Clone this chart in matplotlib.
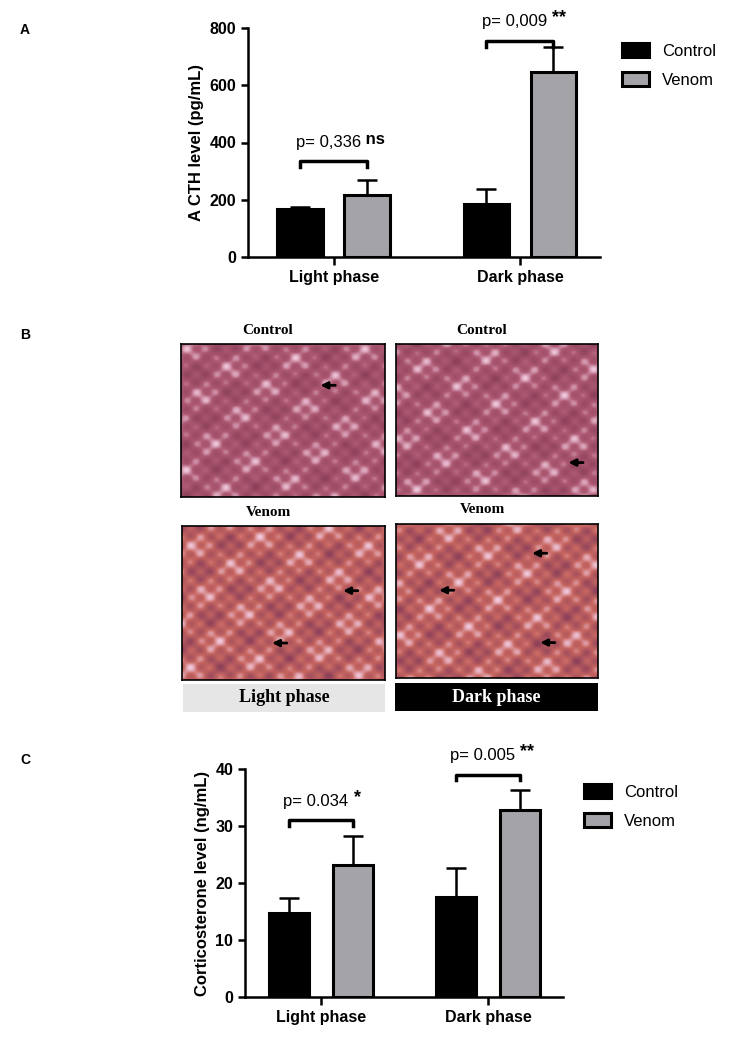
import numpy as np
import matplotlib
matplotlib.use("Agg")
import matplotlib.pyplot as plt

plt.rcParams["font.family"] = ["Liberation Sans", "DejaVu Sans"]

phases = ["Light phase", "Dark phase"]
groups = ["Control", "Venom"]

acth_mean = {"Control": [168, 185], "Venom": [218, 645]}
acth_err = {"Control": [6, 53], "Venom": [50, 88]}
acth_p = ["p= 0,336", "p= 0,009"]
acth_sig = ["ns", "**"]

cort_mean = {"Control": [14.8, 17.6], "Venom": [23.2, 32.8]}
cort_err = {"Control": [2.6, 5.1], "Venom": [5.1, 3.6]}
cort_p = ["p= 0.034", "p= 0.005"]
cort_sig = ["*", "**"]

colors = {"Control": "black", "Venom": "#a3a3a8"}

W, H = 750, 1041
fig = plt.figure(figsize=(W / 100, H / 100), dpi=100)


def px_axes(x0, y0, x1, y1):
    # pixel box (top-left origin) -> figure axes
    return fig.add_axes([x0 / W, 1 - y1 / H, (x1 - x0) / W, (y1 - y0) / H])


def bar_panel(ax, means, errs, ylim, yticks, ylabel, ptext, sig, bracket_y, off, width, xlim):
    x = np.arange(len(phases))
    for i, g in enumerate(groups):
        xs = x + (-off if i == 0 else off)
        ax.bar(xs, means[g], width=width, color=colors[g], edgecolor="black", linewidth=2.2, zorder=2, label=g)
        ax.errorbar(xs, means[g], yerr=[np.zeros(2), errs[g]], fmt="none", ecolor="black",
                    elinewidth=1.8, capsize=7, capthick=1.8, zorder=1)
    span = ylim[1] - ylim[0]
    tick_h = span * 0.025
    for j in range(len(phases)):
        yb = bracket_y[j]
        ax.plot([x[j] - off, x[j] - off, x[j] + off, x[j] + off], [yb - tick_h, yb, yb, yb - tick_h],
                color="black", lw=2.5, clip_on=False)
        t = ax.annotate(ptext[j], (x[j] - 0.03, yb + span * 0.05), ha="center", va="bottom",
                        fontsize=12, annotation_clip=False)
        ax.annotate(" " + sig[j], (1, 0.15), xycoords=t, ha="left", va="bottom",
                    fontsize=12 if sig[j] == "ns" else 13, fontweight="bold", annotation_clip=False)
    ax.set_xlim(*xlim)
    ax.set_ylim(*ylim)
    ax.set_yticks(yticks)
    ax.set_xticks(x)
    ax.set_xticklabels(phases, fontsize=11.5, fontweight="bold")
    ax.tick_params(axis="y", labelsize=11.5, width=1.8, length=5)
    ax.tick_params(axis="x", width=1.8, length=6)
    for lab in ax.get_yticklabels():
        lab.set_fontweight("bold")
    for s in ["top", "right"]:
        ax.spines[s].set_visible(False)
    for s in ["left", "bottom"]:
        ax.spines[s].set_linewidth(1.8)
    ax.set_ylabel(ylabel, fontsize=12, fontweight="bold")
    ax.legend(loc="upper left", bbox_to_anchor=(1.02, 1.0), frameon=False, fontsize=12,
              handlelength=1.6, handleheight=0.9, labelspacing=0.8)


# Panel A
axA = px_axes(248, 28, 600, 257)
bar_panel(axA, acth_mean, acth_err, (0, 800), [0, 200, 400, 600, 800], "A CTH level (pg/mL)",
          acth_p, acth_sig, [335, 755], 0.18, 0.245, (-0.46, 1.43))

# Panel C
axC = px_axes(245, 769, 563, 997)
bar_panel(axC, cort_mean, cort_err, (0, 40), [0, 10, 20, 30, 40], "Corticosterone level (ng/mL)",
          cort_p, cort_sig, [31, 39], 0.19, 0.24, (-0.455, 1.45))

fig.text(20 / W, 1 - 30 / H, "A", fontsize=10, fontweight="bold", va="center")
fig.text(20 / W, 1 - 335 / H, "B", fontsize=10, fontweight="bold", va="center")
fig.text(20 / W, 1 - 760 / H, "C", fontsize=10, fontweight="bold", va="center")

# Panel B: micrograph placeholders (arrow positions as fractions from top-left)
panels = [
    ((181, 344, 385, 497), "Control", 0.0, [(0.67, 0.27)]),
    ((396, 344, 598, 496), "Control", 1.3, [(0.84, 0.78)]),
    ((182, 526, 385, 680), "Venom", 2.1, [(0.78, 0.42), (0.43, 0.76)]),
    ((396, 524, 598, 678), "Venom", 3.7, [(0.66, 0.19), (0.2, 0.43), (0.7, 0.77)]),
]
yy, xx = np.mgrid[0:150, 0:200]
for (x0, y0, x1, y1), lab, ph, arrows in panels:
    ax = px_axes(x0, y0, x1, y1)
    tex = (np.sin(xx / 3.1 + ph) * np.sin(yy / 2.7 - ph) + 0.6 * np.sin((xx + yy) / 9.0 + 2 * ph)
           + 0.5 * np.cos((xx - 2 * yy) / 13.0 + ph))
    tex = (tex - tex.min()) / (tex.max() - tex.min())
    dark = np.array([0.55, 0.25, 0.35])
    mid = np.array([0.78, 0.40, 0.38]) if lab == "Venom" else np.array([0.68, 0.35, 0.45])
    light = np.array([0.95, 0.80, 0.88])
    img = np.where(tex[..., None] < 0.6,
                   dark + (mid - dark) * (tex[..., None] / 0.6),
                   mid + (light - mid) * ((tex[..., None] - 0.6) / 0.4))
    ax.imshow(img, aspect="auto", interpolation="bilinear")
    for fx, fy in arrows:
        ax.annotate("", xy=(fx, 1 - fy), xytext=(fx + 0.1, 1 - fy), xycoords="axes fraction",
                    arrowprops=dict(arrowstyle="-|>", color="black", lw=2, mutation_scale=10))
    ax.set_xticks([])
    ax.set_yticks([])
    for s in ax.spines.values():
        s.set_linewidth(1.2)
    fig.text((x0 + x1) / 2 / W - 0.02, 1 - (y0 - 14) / H, lab, family="Liberation Serif",
             fontsize=11, fontweight="bold", ha="center", va="center")

axL = px_axes(183, 684, 385, 712)
axL.set_facecolor("#e6e6e6")
axL.text(0.5, 0.5, "Light phase", transform=axL.transAxes, ha="center", va="center",
         family="Liberation Serif", fontsize=13, fontweight="bold")
axD = px_axes(395, 683, 598, 711)
axD.set_facecolor("black")
axD.text(0.5, 0.5, "Dark phase", transform=axD.transAxes, ha="center", va="center",
         family="Liberation Serif", fontsize=13, fontweight="bold", color="white")
for a in (axL, axD):
    a.set_xticks([])
    a.set_yticks([])
    for s in a.spines.values():
        s.set_visible(False)

fig.savefig("out.png", dpi=100)
